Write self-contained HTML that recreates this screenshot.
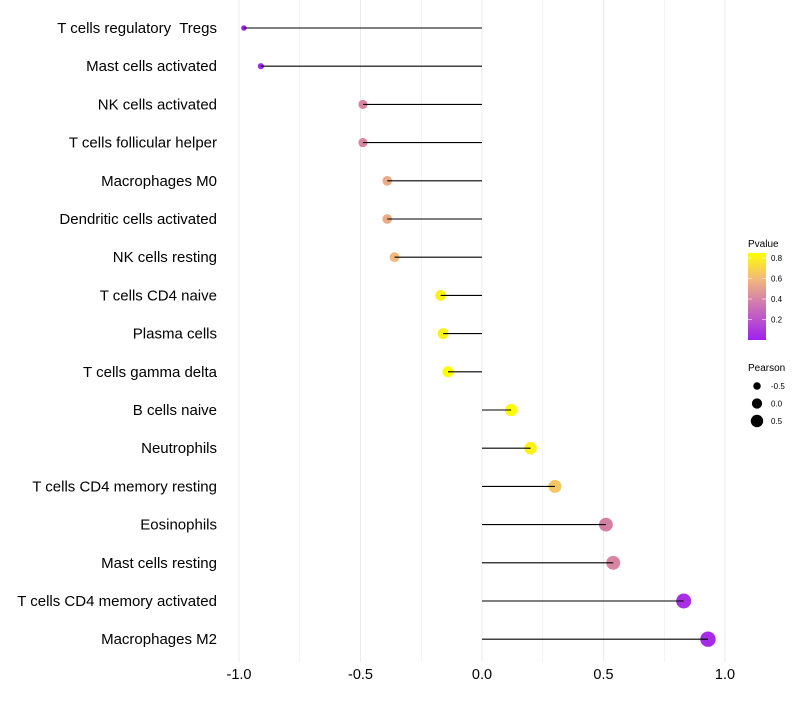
<!DOCTYPE html>
<html><head><meta charset="utf-8"><style>
body{margin:0;background:#fff;font-family:"Liberation Sans",sans-serif}
svg text{font-family:"Liberation Sans",sans-serif;white-space:pre}
</style></head><body>
<svg id="chart" width="800" height="700" xmlns="http://www.w3.org/2000/svg">
<defs><linearGradient id="pg" x1="0" y1="1" x2="0" y2="0">
<stop offset="0" stop-color="#a020f0"/><stop offset="0.47" stop-color="#d784a8"/><stop offset="0.7" stop-color="#f2b87c"/><stop offset="1" stop-color="#ffff00"/>
</linearGradient></defs>
<g id="grid"></g>
<g id="marks"></g>
<g id="ylab"></g>
<g id="xlab"></g>
<g>
<text x="748" y="247" font-size="10" fill="#000">Pvalue</text>
<rect x="748" y="253" width="18" height="87" fill="url(#pg)"/>
<g id="pticks"></g>
</g>
<g>
<text x="748" y="371" font-size="10" fill="#000">Pearson</text>
<g id="sizeleg"></g>
</g>
</svg>
<script>
const categories=["T cells regulatory  Tregs","Mast cells activated","NK cells activated","T cells follicular helper","Macrophages M0","Dendritic cells activated","NK cells resting","T cells CD4 naive","Plasma cells","T cells gamma delta","B cells naive","Neutrophils","T cells CD4 memory resting","Eosinophils","Mast cells resting","T cells CD4 memory activated","Macrophages M2"];
const pearson=[-0.98,-0.91,-0.49,-0.49,-0.39,-0.39,-0.36,-0.17,-0.16,-0.14,0.12,0.2,0.3,0.51,0.54,0.83,0.93];
const pvalues=[0.02,0.03,0.4,0.4,0.55,0.55,0.6,0.8,0.8,0.84,0.85,0.8,0.65,0.38,0.4,0.06,0.04];
const xTicks=[-1.0,-0.5,0.0,0.5,1.0];
const xTickLabels=["-1.0","-0.5","0.0","0.5","1.0"];
const xMinor=[-0.75,-0.25,0.25,0.75];
const pTicks=[0.2,0.4,0.6,0.8];
const sizeLegend=[-0.5,0.0,0.5];
const NS="http://www.w3.org/2000/svg";
const x=v=>482+v*243;
const y=i=>28+i*38.2;
const r=v=>Math.sqrt(Math.max(2,34+27*v));
const stops=[[0,[160,32,240]],[0.4,[217,132,160]],[0.6,[242,184,124]],[0.85,[255,255,0]]];
function col(p){if(p<=stops[0][0])return "rgb("+stops[0][1]+")";for(let k=1;k<stops.length;k++){if(p<=stops[k][0]){const a=stops[k-1],b=stops[k],t=(p-a[0])/(b[0]-a[0]);return "rgb("+a[1].map((c,j)=>Math.round(c+(b[1][j]-c)*t)).join(",")+")";}}return "rgb(255,255,0)";}
function mk(tag,at,parent){const e=document.createElementNS(NS,tag);for(const k in at)e.setAttribute(k,at[k]);document.getElementById(parent).appendChild(e);return e;}
const pT=p=>340-p*102.4;
const lr=v=>Math.sqrt(26.3+24.5*v);
xTicks.concat(xMinor).forEach(v=>{const l=mk("line",{x1:x(v),x2:x(v),y1:0,y2:662,stroke:"#ebebeb","stroke-width":xTicks.includes(v)?1:0.6},"grid");

});
xTicks.forEach((v,i)=>{const t=mk("text",{x:x(v),y:679,"text-anchor":"middle","font-size":14.5,fill:"#000"},"xlab");t.textContent=xTickLabels[i];

});
categories.forEach((c,i)=>{const t=mk("text",{x:217,y:y(i)+5,"text-anchor":"end","font-size":15,fill:"#000"},"ylab");t.textContent=c;


const d=mk("circle",{cx:x(pearson[i]),cy:y(i),r:r(pearson[i]),fill:col(pvalues[i])},"marks");


const l=mk("line",{x1:x(0),x2:x(pearson[i]),y1:y(i),y2:y(i),stroke:"#000","stroke-width":1.1},"marks");

});
pTicks.forEach(p=>{mk("line",{x1:748,x2:752,y1:pT(p),y2:pT(p),stroke:"#fff","stroke-opacity":0.6},"pticks");mk("line",{x1:762,x2:766,y1:pT(p),y2:pT(p),stroke:"#fff","stroke-opacity":0.6},"pticks");
const t=mk("text",{x:771,y:pT(p)+3,"font-size":8,fill:"#000"},"pticks");t.textContent=p.toFixed(1);

});
sizeLegend.forEach((v,i)=>{const cy=386+i*17.5;const c=mk("circle",{cx:757,cy:cy,r:lr(v),fill:"#000"},"sizeleg");


const t=mk("text",{x:771,y:cy+3,"font-size":8,fill:"#000"},"sizeleg");t.textContent=v.toFixed(1);

});
</script>
</body></html>
